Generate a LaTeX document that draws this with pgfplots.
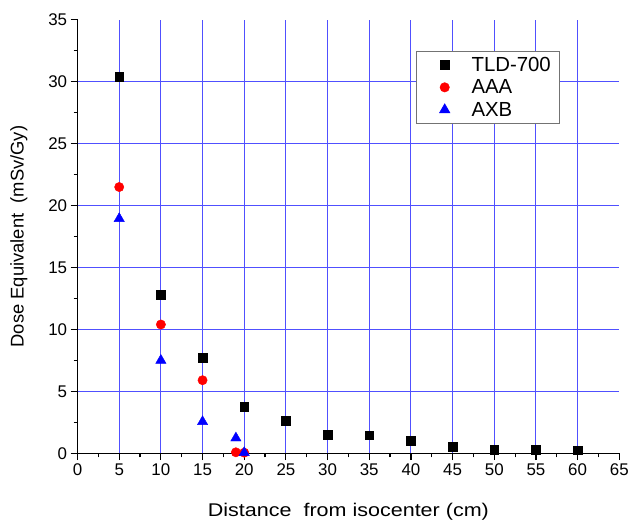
\documentclass[border=0pt]{standalone}
\usepackage{fontspec}
\setmainfont{Liberation Sans}
\usepackage{graphicx}
\usepackage{pgfplots}
\pgfplotsset{compat=1.18}
\definecolor{gridblue}{RGB}{80,80,255}

\begin{document}
\begin{tikzpicture}
\begin{axis}[
  scale only axis,
  width=545pt, height=436pt,
  xmin=0, xmax=65, ymin=0, ymax=35,
  axis lines=left,
  axis line style={-, line width=1.3pt},
  xtick={0,5,...,60}, extra x ticks={65}, extra x tick style={grid=none},
  ytick={0,5,...,30}, extra y ticks={35}, extra y tick style={grid=none},
  minor xtick={2.5,7.5,...,62.5},
  minor ytick={2.5,7.5,...,32.5},
  tick align=outside,
  major tick length=7pt, minor tick length=4pt,
  tick style={black, line width=1.2pt},
  grid=major,
  major grid style={gridblue, line width=1pt},
  /pgf/number format/assume math mode=true,
  ticklabel style={font=\fontsize{17}{20}\selectfont},
  xlabel={\scalebox{1.17}[1]{Distance\ \ from isocenter (cm)}},
  ylabel={Dose Equivalent\ \ (mSv/Gy)},
  label style={font=\fontsize{18.5}{20}\selectfont},
  xlabel style={yshift=-7pt},
  legend style={at={(0.624,0.929)}, anchor=north west, draw=black!55,
    line width=0.6pt, font=\fontsize{20.5}{22}\selectfont,
    inner xsep=7pt, inner ysep=4pt, row sep=3pt},
  legend cell align=left,
  legend image code/.code={\path[draw=none] (-22pt,0pt) -- (25pt,0pt); \draw[#1] plot coordinates {(0pt,0pt)};},
]
\addplot[only marks, mark=square*, mark size=4.3pt, black] coordinates {
  (5,30.4)(10,12.8)(15,7.7)(20,3.75)(25,2.62)(30,1.5)(35,1.47)(40,1.02)(45,0.51)(50,0.3)(55,0.27)(60,0.24)
};
\addlegendentry{TLD-700}
\addplot[only marks, mark=*, mark size=4.7pt, red] coordinates {
  (5,21.5)(10,10.4)(15,5.9)(19,0.08)(20,0.05)
};
\addlegendentry{AAA}
\addplot[only marks, mark=triangle*, mark size=6pt, blue] coordinates {
  (5,18.95)(10,7.5)(15,2.55)(19,1.23)(20,0.05)
};
\addlegendentry{AXB}
\end{axis}
\path (-78pt,-67pt) rectangle (554pt,456pt);
\end{tikzpicture}
\end{document}
